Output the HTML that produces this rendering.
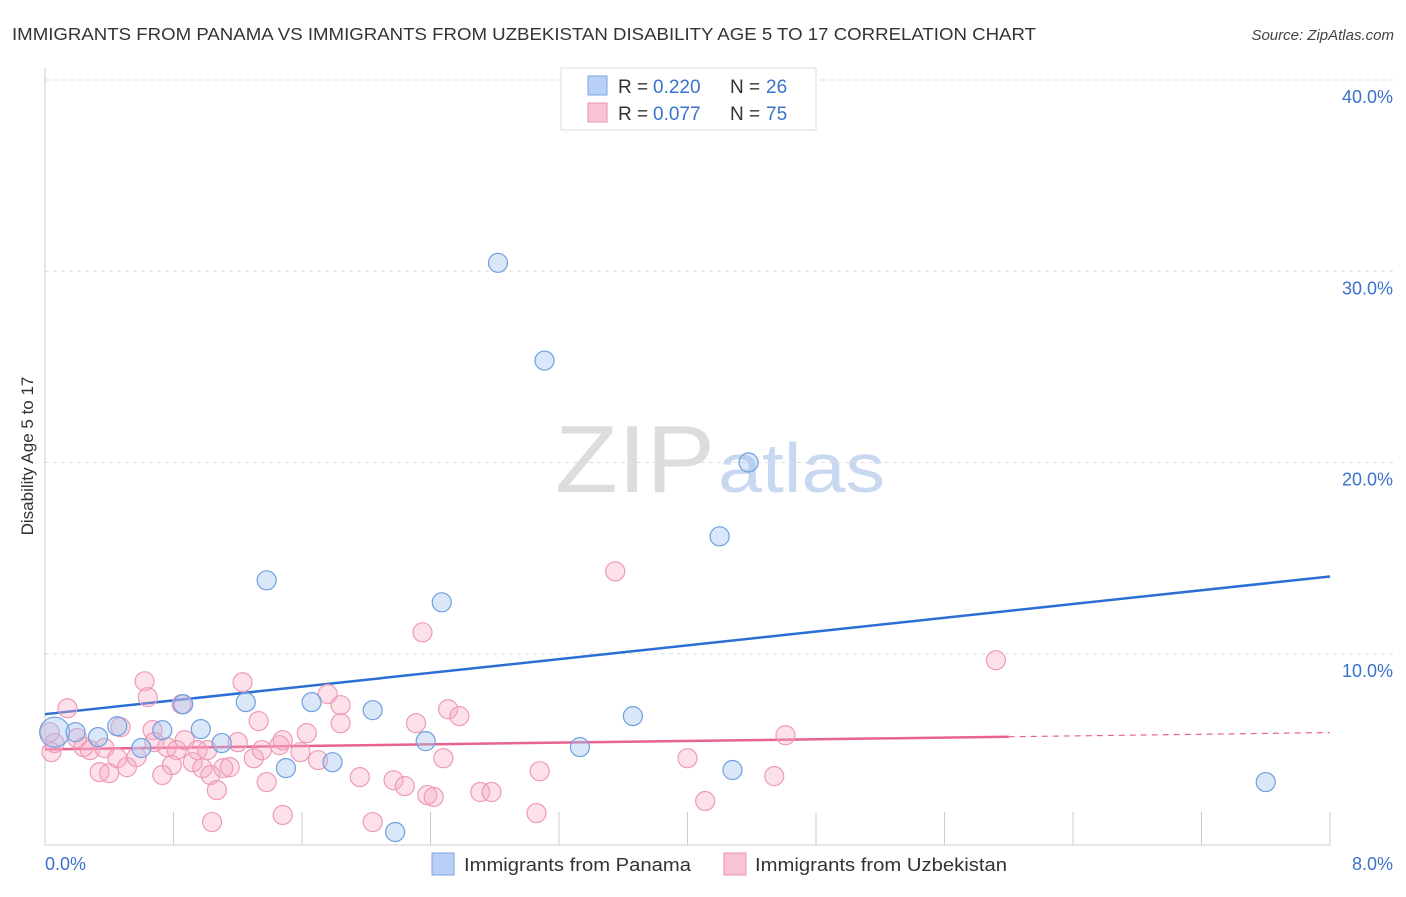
<!DOCTYPE html>
<html><head><meta charset="utf-8"><style>
body{margin:0;background:#fff;font-family:"Liberation Sans",sans-serif}
svg text{font-family:"Liberation Sans",sans-serif}
</style></head><body>
<svg id="chart" width="1406" height="892" xmlns="http://www.w3.org/2000/svg">
<text x="12" y="40" font-size="17.5" fill="#333" textLength="1024" lengthAdjust="spacingAndGlyphs">IMMIGRANTS FROM PANAMA VS IMMIGRANTS FROM UZBEKISTAN DISABILITY AGE 5 TO 17 CORRELATION CHART</text>
<text x="1394" y="40" font-size="15" fill="#444" font-style="italic" text-anchor="end">Source: ZipAtlas.com</text>
<g>
<text x="555" y="492" font-size="96" fill="#ddd" font-family="Liberation Serif, serif" textLength="160" lengthAdjust="spacingAndGlyphs">ZIP</text>
<text x="718" y="492" font-size="70" fill="#c8d8f0" textLength="167" lengthAdjust="spacingAndGlyphs">atlas</text>
</g>
<text transform="translate(33,456) rotate(-90)" font-size="17" fill="#333" text-anchor="middle">Disability Age 5 to 17</text>
<g id="grid"></g><g id="axes"></g><g id="lines"></g><g id="pts"></g>
<g>
<rect x="561" y="68" width="255" height="62" fill="#fff" stroke="#ddd"/>
<rect x="588" y="76" width="19" height="19" fill="#b8d0f5" stroke="#7aa6e8"/>
<rect x="588" y="103" width="19" height="19" fill="#f9c4d4" stroke="#eb94b0"/>
<text x="618" y="93" font-size="19" fill="#333">R = </text>
<text x="653" y="93" font-size="19" fill="#3a72cc">0.220</text>
<text x="730" y="93" font-size="19" fill="#333">N = </text>
<text x="766" y="93" font-size="19" fill="#3a72cc">26</text>
<text x="618" y="120" font-size="19" fill="#333">R = </text>
<text x="653" y="120" font-size="19" fill="#3a72cc">0.077</text>
<text x="730" y="120" font-size="19" fill="#333">N = </text>
<text x="766" y="120" font-size="19" fill="#3a72cc">75</text>
</g>
<g>
<rect x="432" y="853" width="22" height="22" fill="#b8d0f5" stroke="#7aa6e8"/>
<text x="464" y="871" font-size="18" fill="#333" textLength="227" lengthAdjust="spacingAndGlyphs">Immigrants from Panama</text>
<rect x="724" y="853" width="22" height="22" fill="#f9c4d4" stroke="#eb94b0"/>
<text x="755" y="871" font-size="18" fill="#333" textLength="252" lengthAdjust="spacingAndGlyphs">Immigrants from Uzbekistan</text>
</g>
</svg>
<script>
const blueX=[0.06,0.19,0.33,0.60,0.45,0.73,0.86,0.97,1.10,1.25,1.38,1.50,1.66,1.79,2.04,2.18,2.37,2.47,2.82,3.11,3.33,3.66,4.20,4.28,4.38,7.60];
const blueY=[5.9,5.9,5.64,5.07,6.21,6.0,7.36,6.06,5.33,7.47,13.84,4.02,7.47,4.33,7.05,0.68,5.43,12.69,30.44,25.33,5.12,6.74,16.14,3.92,20.0,3.29];
const pinkX=[0.62,0.64,1.23,0.14,0.85,1.76,1.84,1.84,1.33,2.51,2.58,2.31,0.03,0.06,0.04,0.20,0.24,0.28,0.37,0.47,0.45,0.51,0.57,0.34,0.40,0.67,0.68,0.76,0.82,0.87,0.95,1.01,0.92,0.98,1.03,0.79,0.73,1.07,1.11,1.15,1.20,1.30,1.35,1.46,1.48,1.59,1.63,1.70,1.38,1.04,1.48,1.96,2.17,2.24,2.38,2.42,2.04,2.48,2.71,2.78,3.55,2.35,5.92,4.61,4.00,4.54,4.11,3.08,3.06];
const pinkY=[8.56,7.73,8.51,7.15,7.36,7.89,7.31,6.37,6.48,7.10,6.74,6.37,5.90,5.33,4.86,5.59,5.12,4.96,5.07,6.16,4.54,4.07,4.60,3.81,3.76,6.01,5.38,5.12,4.96,5.48,4.96,4.96,4.33,4.02,3.66,4.18,3.66,2.87,4.02,4.07,5.38,4.54,4.96,5.22,5.48,4.86,5.85,4.44,3.29,1.20,1.57,3.55,3.39,3.08,2.61,2.51,1.20,4.54,2.77,2.77,14.31,11.12,9.66,5.74,4.54,3.60,2.30,3.86,1.67];
const yTicks=[10,20,30,40];
const yTickLabels=["10.0%","20.0%","30.0%","40.0%"];
const xTicks=[0,0.8,1.6,2.4,3.2,4.0,4.8,5.6,6.4,7.2,8.0];
const blueTrend=[6.84,0.90];
const pinkTrend=[5.0,0.11];
const pinkSolidEnd=6.0;
const NS="http://www.w3.org/2000/svg";
const X0=45,X1=1330,Y0=845,Y40=80;
const sx=v=>X0+(X1-X0)*v/8;
const sy=v=>Y0-(Y0-Y40)*v/40;
function mk(tag,attrs,parent){const e=document.createElementNS(NS,tag);for(const k in attrs)e.setAttribute(k,attrs[k]);document.getElementById(parent).appendChild(e);return e;}
yTicks.forEach((t,i)=>{
  const l=mk('line',{x1:X0,x2:1394,y1:sy(t),y2:sy(t),stroke:'#ddd','stroke-dasharray':'4,4'},'grid');
  
  
  const tx=mk('text',{x:1393,y:sy(t)+23,'font-size':18,fill:'#3a72cc','text-anchor':'end'},'grid');
  tx.textContent=yTickLabels[i];
  
  
});
let ax=mk('line',{x1:X0,x2:X0,y1:68,y2:Y0,stroke:'#ccc'},'axes');


ax=mk('line',{x1:X0,x2:X1,y1:Y0,y2:Y0,stroke:'#ccc'},'axes');


xTicks.slice(1).forEach(t=>{
  const l=mk('line',{x1:sx(t),x2:sx(t),y1:812,y2:Y0,stroke:'#ccc'},'axes');
  
  
});
let tl=mk('text',{x:45,y:870,'font-size':18,fill:'#3a72cc'},'axes');tl.textContent='0.0%';


tl=mk('text',{x:1393,y:870,'font-size':18,fill:'#3a72cc','text-anchor':'end'},'axes');tl.textContent='8.0%';


pinkX.forEach((x,i)=>{
  const c=mk('circle',{cx:sx(x),cy:sy(pinkY[i]),r:9.5,fill:'rgba(246,170,195,0.35)',stroke:'#ef9ab5','stroke-width':1.2},'pts');
  
  
});
blueX.forEach((x,i)=>{
  const c=mk('circle',{cx:sx(x),cy:sy(blueY[i]),r:i===0?15:9.5,fill:'rgba(160,195,240,0.4)',stroke:'#6f9fe0','stroke-width':1.2},'pts');
  
  
});
let ln=mk('line',{x1:sx(0),y1:sy(blueTrend[0]),x2:sx(8),y2:sy(blueTrend[0]+8*blueTrend[1]),stroke:'#2b6fd4','stroke-width':2.5},'lines');


ln=mk('line',{x1:sx(0),y1:sy(pinkTrend[0]),x2:sx(pinkSolidEnd),y2:sy(pinkTrend[0]+pinkSolidEnd*pinkTrend[1]),stroke:'#e8638f','stroke-width':2.5},'lines');


ln=mk('line',{x1:sx(pinkSolidEnd),y1:sy(pinkTrend[0]+pinkSolidEnd*pinkTrend[1]),x2:sx(8),y2:sy(pinkTrend[0]+8*pinkTrend[1]),stroke:'#e8638f','stroke-width':1.2,'stroke-dasharray':'6,5'},'lines');


</script>
</body></html>
